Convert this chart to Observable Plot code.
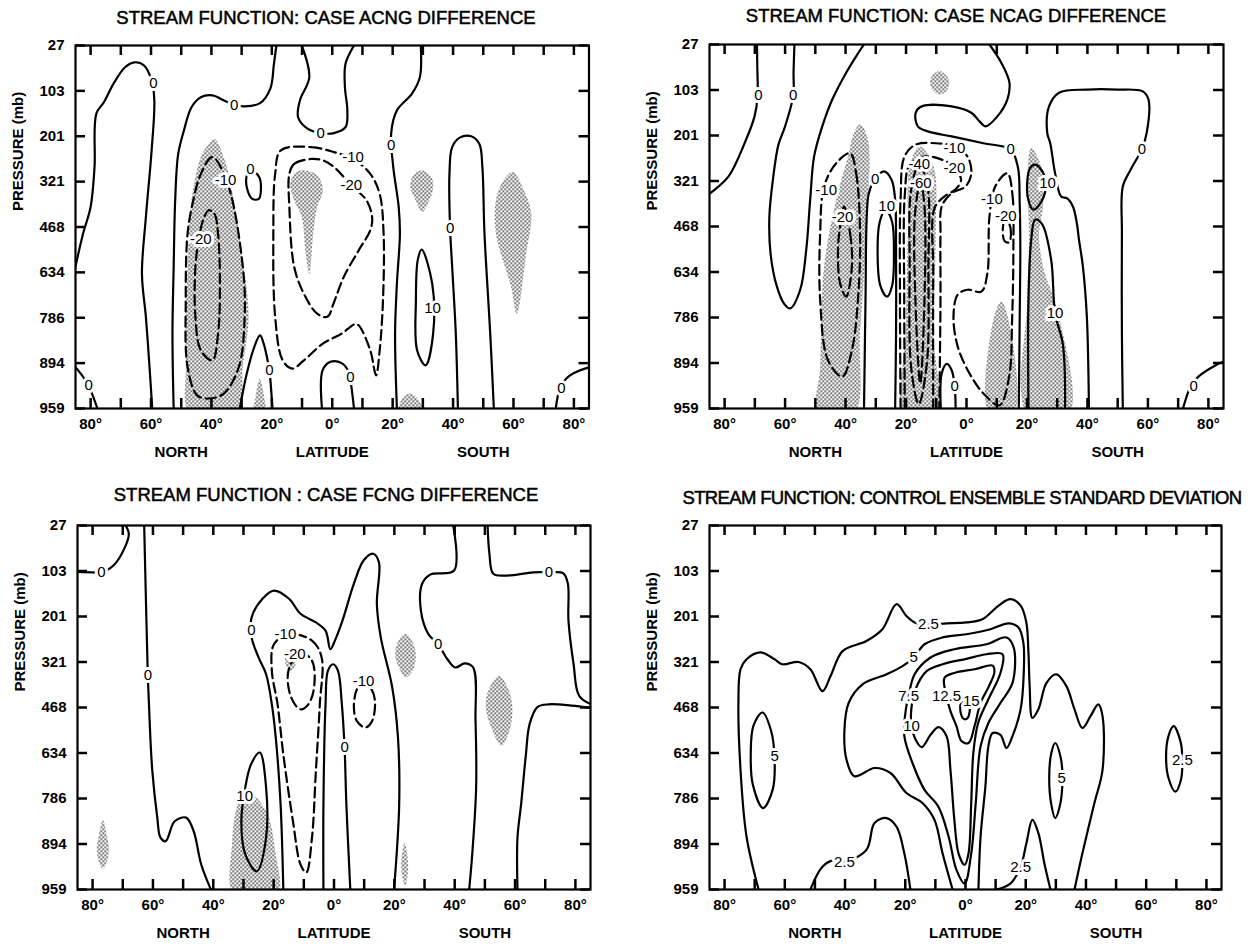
<!DOCTYPE html>
<html><head><meta charset="utf-8">
<script src="https://cdn.jsdelivr.net/npm/d3@7"></script>
<script src="https://cdn.jsdelivr.net/npm/@observablehq/plot@0.6"></script>
<style>
body{margin:0;background:#fff;width:1259px;height:945px;position:relative;overflow:hidden;font-family:"Liberation Sans",Arial,sans-serif;}
.title{position:absolute;transform:translate(-50%,-50%);white-space:nowrap;font-size:18.5px;color:#000;-webkit-text-stroke:0.5px #000;}
</style></head><body>
<svg width="0" height="0" style="position:absolute"><defs>
<pattern id="stipple" width="4" height="4" patternUnits="userSpaceOnUse"><rect x="0" y="0" width="1.5" height="1.5" fill="#111"/><rect x="2" y="2" width="1.5" height="1.5" fill="#111"/></pattern>
</defs></svg>
<script>
// ---------- axes ----------
const latDomain = [-85, 85];            // negative = North, positive = South
const latTicks = [-80,-70,-60,-50,-40,-30,-20,-10,0,10,20,30,40,50,60,70,80];
const latTickLabels = [-80,-60,-40,-20,0,20,40,60,80];
const pressureLevels = [27,103,201,321,468,634,786,894,959]; // mb, one per level index
const levelIndex = [0,1,2,3,4,5,6,7,8];
const hemisphereLabels = [{text:"NORTH",lat:-50},{text:"LATITUDE",lat:0},{text:"SOUTH",lat:50}];
// points are [latitude, level index]

// ---------- Panel 1: CASE ACNG ----------
const acngZeroWest = [[-85.4,4.99],[-82.5,4.15],[-80,3.56],[-78.7,2.68],[-78.1,1.5],[-75.6,1.25],[-72.4,0.84],[-68.6,0.48],[-65.5,0.37],[-62.3,0.44],[-59.8,0.77],[-58.9,1.21],[-59.8,2.31],[-61.7,3.78],[-63,5.03],[-61.7,5.98],[-60.5,7.08],[-59.6,8]];
const acngZeroSW = [[-85.5,7.05],[-82.5,7.3],[-80,7.6],[-77.5,8.05]];
const acngZeroSE = [[85.5,7.08],[78.7,7.27],[75.6,7.52],[73.9,8.05]];
const acngZeroMidNorth = [[-52.5,8],[-52.9,6.35],[-52.5,4.88],[-52,3.41],[-51,2.39],[-49.1,1.87],[-46.6,1.36],[-43.5,1.14],[-39.7,1.1],[-35.3,1.23],[-32.5,1.31],[-29,1.34],[-23.9,1.27],[-20.5,0.95],[-19.3,0.4],[-18.5,0]];
const acngZeroTop = [[-10.1,0],[-7.6,0.7],[-10.7,1.21],[-11.3,1.58],[-8.2,1.83],[-3.8,1.93],[0.6,1.93],[4.4,1.8],[5,1.43],[4.2,0.92],[4.4,0.4],[7.2,0]];
const acngZeroEq = [[29.3,0],[29,0.7],[26.4,1.06],[21.4,1.43],[19.5,1.94],[20.2,2.68],[22,3.56],[22.4,4.15],[21.4,5.25],[20.8,6.35],[21.4,8]];
const acngZeroSouth = [[41.6,8],[40.9,6.35],[39.7,4.88],[39,4.02],[38.8,2.83],[39.7,2.24],[42.2,2.03],[46,2],[48.7,2.17],[49.7,2.68],[50.4,4.15],[52.3,6.35],[53.5,8]];
const acngZeroSmall = [[-27.1,2.72],[-24.2,2.9],[-23.6,3.15],[-24.3,3.38],[-26.5,3.38],[-28.2,3.15],[-28.4,2.9]];
const acngZeroSpike = [[-30.6,8],[-28.3,7.23],[-25.8,6.64],[-23.9,6.39],[-22.7,6.57],[-21.4,6.94],[-20.8,7.16],[-19.8,8]];
const acngZeroHump = [[-3.4,8],[-3.2,7.16],[-0.6,6.97],[3.1,7],[5.5,7.2],[6.3,7.5],[7.2,8]];
const acngTen = [[29.6,4.5],[33.1,5.25],[33.4,6.35],[30.9,7.05],[28.1,6.72],[27.7,5.61],[28.3,4.73]];
const acngMinus10North = [[-39.7,2.46],[-34.6,3.05],[-29.6,4.88],[-29,5.98],[-30.9,7.08],[-35.9,7.67],[-40.9,7.78],[-44.7,7.71],[-47.9,7.08],[-48.5,5.61],[-47.9,4.15],[-46,3.41],[-43.5,2.83]];
const acngMinus20North = [[-40.9,3.63],[-39,3.71],[-37.8,4.15],[-37.2,5.25],[-37.8,6.35],[-39.7,6.94],[-43.5,6.72],[-45.3,5.98],[-45.3,4.88],[-44,4.2],[-42.5,3.8]];
const acngMinus10Eq = [[-17,2.31],[-6.9,2.24],[0.6,2.35],[6.9,2.5],[12.6,2.83],[15.7,3.27],[17,4.15],[16.8,5.61],[15.7,6.72],[14.5,7.27],[12.6,6.72],[8.8,6.17],[7.6,6.14],[3.1,6.35],[-3.1,6.57],[-9.4,6.94],[-13.2,7.12],[-16.4,6.94],[-18.9,5.98],[-19.5,4.15],[-18.9,2.83]];
const acngMinus20Eq = [[-6.9,2.5],[-12.6,2.61],[-14.2,2.83],[-14.2,3.56],[-12.6,4.88],[-9.4,5.47],[-5,5.91],[-1.6,5.98],[0.4,5.69],[3.8,5.1],[8.8,4.51],[12.6,4.07],[13.2,3.78],[11.3,3.41],[6.3,3.08],[0.6,2.68],[-3.1,2.53]];
const acngSigNorth = [[-39,2.06],[-35.9,2.46],[-33.4,3.12],[-29.6,4.73],[-27.7,5.98],[-29.6,7.08],[-31.5,8.1],[-47.2,8.1],[-48.5,7.08],[-47.9,4.88],[-46.6,3.41],[-43.5,2.46],[-41.2,2.2]];
const acngSigSpike = [[-24,7.35],[-22.4,7.8],[-22.2,8.1],[-26,8.1],[-25.5,7.8]];
const acngSigEq = [[-9.4,2.75],[-5,2.86],[-3.1,3.19],[-5,3.56],[-6.3,4.15],[-7.6,5.03],[-8.8,4.59],[-10.1,3.78],[-12.6,3.41],[-13.9,3.05],[-12,2.79]];
const acngSig30S = [[29.6,2.75],[32.8,2.9],[33.4,3.15],[31.5,3.5],[29.8,3.67],[27.5,3.4],[25.8,3.1],[27,2.85]];
const acngSig60S = [[59.8,2.79],[63.5,3.2],[65.9,3.71],[64.2,4.59],[61.1,5.91],[59.2,5.32],[54.2,4.15],[54.2,3.41],[56.7,2.97]];
const acngSig25S = [[25.8,7.67],[28.5,7.8],[30,8.1],[22,8.1],[23,7.8]];
const acngLabels = [[-59.2,0.84,"0"],[-32.5,1.31,"0"],[-3.8,1.93,"0"],[19.5,2.2,"0"],[6.9,2.47,"-10"],[6.3,3.08,"-20"],[-27.1,2.72,"0"],[-35.3,2.97,"-10"],[-43.5,4.26,"-20"],[39,4.02,"0"],[33.2,5.8,"10"],[-20.8,7.16,"0"],[6,7.3,"0"],[-80.6,7.49,"0"],[75.9,7.56,"0"]];

// ---------- Panel 2: CASE NCAG ----------
const ncagZeroWest = [[-85.5,3.3],[-84,3.23],[-78.7,2.9],[-73.4,2.17],[-70.1,1.58],[-69.1,1.14],[-69.2,0.48],[-69.3,0]];
const ncagZeroU = [[-56.9,0],[-57.2,0.6],[-57.3,1.12],[-60,1.8],[-62.2,2.2],[-63.9,2.9],[-65.2,3.78],[-64.8,4.6],[-62.8,5.3],[-60.3,5.7],[-58.3,5.8],[-55,5.39],[-53,4.51],[-51.7,3.41],[-50.4,2.46],[-47.7,1.8],[-44.4,1.21],[-39.8,0.62],[-36.5,0.26],[-33.9,0]];
const ncagZeroBox = [[7.6,0],[11.5,0.4],[14.2,0.84],[13.5,1.21],[10.2,1.58],[6.3,1.8],[4.3,1.69],[1.6,1.5],[-4.9,1.36],[-14.8,1.36],[-16.8,1.5],[-16.1,1.8],[-12.8,1.91],[-4.9,2.02],[5.6,2.17],[14.6,2.31],[17,2.7],[17.6,3.5],[17.8,4.5],[17.6,6],[17.3,8]];
const ncagZeroSouth = [[40.5,8],[39.8,5.98],[38.5,4.88],[37.2,4.29],[36.5,3.93],[35.2,3.56],[33.3,3.38],[31.3,3.34],[29.3,2.83],[27.7,2.17],[26.7,1.94],[27.3,1.36],[30.6,1.06],[40,0.99],[50,0.99],[58.3,1.03],[60.2,1.21],[59.6,1.94],[58,2.3],[54.3,2.75],[51.7,3.12],[51.4,4.15],[51.4,6.35],[51.7,8]];
const ncagZeroSE = [[85.5,6.95],[82.4,7.05],[76.7,7.3],[74.1,7.52],[71.4,8.05]];
const ncagZeroOuterU = [[-33.9,8],[-33.4,5.6],[-33,3.8],[-32.3,3.27],[-30.2,2.95],[-27.3,2.79],[-24.8,2.97],[-23.6,3.41],[-23.3,4.5],[-23.3,6.35],[-23.6,8]];
const ncagZeroHump = [[-8.5,8],[-8.2,7.23],[-6.5,7.02],[-4.9,7.16],[-3.9,7.52],[-3.6,8]];
const ncagTenInner = [[-26.7,3.63],[-24.6,3.9],[-24,4.59],[-24.6,5.3],[-26.3,5.54],[-28.5,5.3],[-29.4,4.59],[-28.7,3.9]];
const ncagTenSmall = [[22.7,2.64],[25.2,2.8],[26.3,3.05],[24.8,3.45],[22.1,3.63],[20.4,3.4],[20.1,3.0],[21,2.72]];
const ncagTenU = [[20.5,8],[20.5,5.61],[21.4,4.3],[22.7,3.85],[25,3.95],[28,4.73],[29.3,5.91],[31.9,6.6],[32.6,8]];
const ncagMinus10West = [[-38.5,2.39],[-36.5,2.83],[-35.2,4.15],[-35.9,5.61],[-37.9,6.72],[-41.1,7.3],[-45.8,6.94],[-48.4,5.61],[-48.4,4.15],[-47.1,3.12],[-43.1,2.61]];
const ncagMinus20West = [[-40.5,3.56],[-38.5,4.15],[-37.9,4.88],[-39.8,5.54],[-41.8,5.25],[-42.5,4.51],[-41.8,4.0]];
const ncagMinus10Eq = [[-21.8,8],[-22,5.6],[-21.8,3.4],[-20.5,2.46],[-16.8,2.2],[-10.2,2.17],[-3.6,2.24],[0.3,2.46],[1.6,2.83],[-0.3,3.12],[-4.9,3.27],[-8.2,3.56],[-8.6,4.15],[-8.6,5.6],[-9,8]];
const ncagMinus20Eq = [[-20.4,8],[-20.6,5.5],[-20.4,3.3],[-18.8,2.65],[-13.5,2.46],[-8.2,2.53],[-4.2,2.68],[-1.8,2.98],[-3.6,3.18],[-7.5,3.35],[-10.6,3.6],[-11,5],[-11,8]];
const ncagMinus40 = [[-15.7,2.64],[-13,3.05],[-12.6,4.88],[-13.1,7.0],[-15.8,7.9],[-18.3,7.1],[-18.8,4.88],[-18.3,3.19]];
const ncagMinus60 = [[-15.2,3.01],[-13.9,3.56],[-13.9,5.61],[-15.3,7.45],[-16.9,5.61],[-17,3.7]];
const ncagMinus10East = [[13.5,2.83],[15.2,3.3],[15.5,4.5],[15.1,6],[14.1,7.3],[10.9,7.93],[5.6,7.67],[1,7.23],[-2.9,6.64],[-4.3,5.98],[-2.9,5.5],[0.3,5.39],[4.9,5.43],[6.9,5.03],[7.6,3.78],[9.5,3.12]];
const ncagMinus20East = [[13,3.8],[14.6,4.05],[14.1,4.35],[12.6,4.32],[12,4.05]];
const ncagSigWest = [[-35.2,1.76],[-32.6,2.09],[-33.2,4.15],[-35.2,6.35],[-37.2,8.1],[-49.1,8.1],[-48.4,7.08],[-47.1,4.88],[-43.1,3.41],[-39.2,2.46],[-37.2,1.94]];
const ncagSigTop = [[-8.9,0.58],[-6.4,0.7],[-5.7,0.84],[-6.6,1.02],[-8.9,1.1],[-11.2,1.0],[-12.1,0.84],[-11.3,0.68]];
const ncagSigEq = [[-15.5,2.24],[-10.9,2.68],[-10.2,4.15],[-10.9,6.35],[-10.2,8.1],[-20.7,8.1],[-20.1,6.35],[-19.4,4.15],[-18.8,2.68]];
const ncagSig10S = [[11.5,5.65],[14.8,6.35],[15.5,8.1],[7.6,8.1],[8,6.35]];
const ncagSig25S = [[21.4,2.28],[24.7,2.68],[25.3,3.56],[24,4.15],[25.3,4.88],[30.6,5.98],[33.9,8.1],[20.1,8.1],[20.1,5.61],[20.7,4.15],[20.1,3.05]];
const ncagLabels = [[-68.8,1.12,"0"],[-57.3,1.12,"0"],[14.6,2.31,"0"],[58,2.3,"0"],[-4,2.28,"-10"],[-4,2.72,"-20"],[-15.6,2.64,"-40"],[-15.1,3.04,"-60"],[-30.2,2.97,"0"],[-26.4,3.55,"10"],[-46.4,3.2,"-10"],[-41,3.8,"-20"],[8.4,3.41,"-10"],[13,3.78,"-20"],[26.8,3.05,"10"],[29.3,5.91,"10"],[-3.9,7.52,"0"],[75.1,7.52,"0"]];

// ---------- Panel 3: CASE FCNG ----------
const fcngZeroNW = [[-85.5,1.02],[-80,1.03],[-77.1,1.03],[-73.1,0.88],[-69.3,0.48],[-68,0.18],[-69.5,-0.05]];
const fcngZeroNorth = [[-62.9,0],[-62.3,1.7],[-61.7,3.3],[-60.9,4.6],[-60.2,5.4],[-58.6,6.4],[-57.5,6.86],[-55.8,6.94],[-52.8,6.5],[-49,6.42],[-46.5,6.72],[-44,7.45],[-40.8,8]];
const fcngZeroEq = [[-16.8,8],[-17.7,6.13],[-19.3,4.66],[-20.6,3.93],[-22.5,3.27],[-25,2.9],[-27.3,2.46],[-27.3,2.02],[-23.7,1.61],[-19.9,1.43],[-14.9,1.61],[-11.1,1.94],[-6,2.13],[-2.8,2.31],[-1.2,2.72],[0.3,2.53],[2.8,2.09],[6.6,1.28],[9.8,0.77],[13,0.62],[14.9,0.81],[14.2,1.72],[15.5,2.46],[19.3,3.56],[21.2,4.66],[21.6,6.13],[19.9,8]];
const fcngZeroInner = [[-3.5,8],[-3.5,6.13],[-2.8,3.93],[-2,3.19],[-0.3,3.05],[1.3,3.19],[2.6,3.93],[3.5,4.88],[4.1,6.13],[5.4,8]];
const fcngZeroSouthA = [[39.5,0],[39.8,0.99],[31.9,1.08],[29.2,1.28],[28.8,1.87],[31.3,2.39],[34.5,2.61],[37.6,2.94],[40.2,3.12],[43.3,3.03],[46.1,3.12],[46.9,4.29],[47.1,5.76],[45.8,7.23],[44.8,8]];
const fcngZeroSouthB = [[50.9,0],[51.5,0.62],[52.8,1.06],[57.2,1.1],[66.1,1.03],[71.2,1.03],[76,1.05],[77.5,1.28],[77.7,2.09],[79.4,3.05],[81.3,3.75],[86,3.95]];
const fcngZeroSouthC = [[86,4.02],[78.7,3.96],[71.2,3.93],[67.4,3.99],[64.8,4.37],[63.6,5.03],[62,6.13],[60.8,6.86],[60.8,8]];
const fcngTen = [[-24.6,4.99],[-22.5,5.76],[-22.5,6.86],[-25.6,7.6],[-29.4,7.23],[-30.7,6.5],[-29.4,5.76],[-27.5,5.25]];
const fcngMinus10 = [[-14.9,2.39],[-7.3,2.53],[-4.1,2.9],[-4.7,3.93],[-6,5.39],[-7.3,6.86],[-9.2,7.63],[-11.1,7.45],[-13.6,6.5],[-16.8,5.03],[-18.7,3.93],[-20.6,3.19],[-19.9,2.61]];
const fcngMinus20 = [[-11.1,2.79],[-7.3,2.97],[-6.6,3.56],[-8.5,3.93],[-11.1,4.04],[-14.2,3.78],[-15.1,3.19]];
const fcngMinus10East = [[9.8,3.45],[12.6,3.62],[13.6,3.9],[12.6,4.3],[10.4,4.44],[7.6,4.3],[6.6,4.0],[7.6,3.6]];
const fcngSig75N = [[-76.6,6.48],[-75.3,6.8],[-74.6,7.1],[-75.3,7.4],[-76.6,7.54],[-77.9,7.4],[-78.6,7.1],[-77.9,6.8]];
const fcngSig25N = [[-28.8,5.83],[-22.5,6.28],[-19.3,7.23],[-18.7,8.1],[-33.2,8.1],[-33.8,7.01],[-31.9,6.13]];
const fcngSig15N = [[-14.6,2.68],[-12.8,2.85],[-12.5,3.0],[-13.5,3.15],[-14.6,3.2],[-16,3.05],[-16.2,2.85]];
const fcngSig24S = [[23.7,2.38],[26.3,2.6],[27.1,2.86],[26,3.2],[23.7,3.34],[21.4,3.1],[20.3,2.86],[21.2,2.55]];
const fcngSig55S = [[54.7,3.3],[57.8,3.6],[59.1,4.0],[58.2,4.5],[55.5,4.84],[52.5,4.5],[50.3,4.0],[51.3,3.6]];
const fcngSig23S = [[23.4,6.97],[24.4,7.3],[24.5,7.6],[23.6,7.93],[22.4,7.6],[22.4,7.3]];
const fcngLabels = [[-77.1,1.03,"0"],[-61.7,3.3,"0"],[-27.4,2.3,"0"],[-16.1,2.39,"-10"],[-13,2.83,"-20"],[9.8,3.42,"-10"],[3.5,4.88,"0"],[34.5,2.61,"0"],[71.2,1.03,"0"],[-29.6,5.94,"10"]];

// ---------- Panel 4: CONTROL ENSEMBLE STANDARD DEVIATION ----------
const ctrl25Outer = [[-68.7,8],[-72.7,6.84],[-74.7,5.37],[-75.4,3.9],[-74.7,3.16],[-72.7,2.94],[-68.1,2.79],[-63.4,2.94],[-60.8,3.05],[-55.4,3.0],[-51.5,3.16],[-47.5,3.64],[-44.8,3.31],[-40.8,2.76],[-32.9,2.54],[-27.6,2.28],[-22.9,1.73],[-19.6,1.99],[-16.9,2.13],[-12.3,2.17],[-6.3,2.15],[0.3,2.13],[5.6,2.06],[11,1.76],[14.9,1.62],[18.3,1.76],[20.2,2.13],[20.9,2.79],[21.3,3.53],[22.2,4.23],[24.2,4.04],[26.9,3.46],[30.2,3.27],[33.5,3.53],[36.2,4.04],[38.8,4.45],[41.5,4.19],[44.1,3.93],[45.5,4.19],[45.5,5.37],[42.8,6.1],[38.8,7.21],[36.2,8]];
const ctrl25SW = [[-51.5,8],[-47.5,7.5],[-43.5,7.35],[-40.2,7.39],[-32.9,7.13],[-30.2,6.54],[-26.2,6.43],[-22.9,6.62],[-20.3,7.21],[-18.3,8]];
const ctrl25SE = [[10.3,8],[14.9,7.87],[18.3,7.5],[20.2,6.99],[22.2,6.47],[24.2,6.76],[26.2,7.43],[28.2,8]];
const ctrl25East = [[69.1,4.41],[71.4,4.75],[72,5.15],[71.5,5.6],[69.7,5.85],[67.4,5.55],[66.6,5.1],[67.3,4.65]];
const ctrl5Main = [[-4.3,8],[-7.6,7.21],[-10.3,6.47],[-14.3,6.1],[-19.6,5.88],[-24.9,5.44],[-30.2,5.33],[-36.9,5.51],[-39.5,5.15],[-40.2,4.49],[-38.8,3.9],[-34.2,3.49],[-26.2,3.27],[-20.9,3.09],[-17.2,2.9],[-13.6,2.61],[-7.6,2.46],[0.3,2.39],[8.3,2.28],[14.3,2.15],[17.6,2.24],[19.2,2.57],[19.3,3.31],[18.3,4.04],[15.6,4.63],[13.6,4.89],[11.6,4.6],[9,4.56],[7.6,4.85],[6.6,5.74],[5,6.84],[4.3,8]];
const ctrl5West = [[-67.4,4.11],[-64.6,4.5],[-63.4,5.1],[-64,5.8],[-67.2,6.21],[-70.6,5.7],[-71.3,5.0],[-70.4,4.4]];
const ctrl5East = [[29.8,4.78],[31.6,5.1],[32.2,5.6],[31.2,6.2],[29.8,6.43],[28.4,6.1],[27.8,5.5],[28.5,5.0]];
const ctrl75 = [[-0.3,7.87],[-3,7.57],[-5.6,6.84],[-9,6.18],[-13.6,5.81],[-17.6,5.22],[-20.3,4.63],[-19.8,4.04],[-18.9,3.75],[-16.9,3.27],[-11.6,2.9],[-3.7,2.72],[7,2.61],[13.6,2.46],[16,2.68],[15.6,3.46],[11.6,3.9],[7.6,4.34],[5,4.85],[3.4,6.1],[1.9,7.21]];
const ctrl10 = [[-17.9,4.41],[-16.3,4.74],[-14.5,4.87],[-11.6,4.6],[-9,4.43],[-6.3,4.63],[-5,5.37],[-3.7,6.47],[-2.3,7.21],[-0.3,7.46],[1,7.21],[1.9,6.1],[2.6,5.0],[4.2,4.34],[7.6,3.82],[11.6,3.24],[12.3,2.83],[7,2.83],[0.3,2.93],[-7.6,3.05],[-12.9,3.2],[-16.6,3.6],[-18,4.04]];
const ctrl125 = [[-6.3,3.75],[-7,3.35],[-3.7,3.24],[3,3.16],[9,3.08],[9.6,3.22],[7.8,3.53],[5,3.9],[3,4.41],[1,4.78],[-1.3,4.74],[-3,4.41],[-5,4.08]];
const ctrl15 = [[-0.3,3.83],[1.2,3.92],[1.4,4.08],[0.6,4.24],[-0.6,4.25],[-1.7,4.08],[-1.5,3.9]];
const ctrlLabels = [[-12.3,2.17,"2.5"],[-17.2,2.9,"5"],[-18.9,3.75,"7.5"],[-17.9,4.41,"10"],[-6.3,3.75,"12.5"],[1.9,3.86,"15"],[-63.4,5.07,"5"],[31.9,5.55,"5"],[72,5.15,"2.5"],[-40.2,7.39,"2.5"],[18.3,7.5,"2.5"]];

// ---------- panel definitions ----------
const panels = [
  { title: "STREAM FUNCTION: CASE ACNG DIFFERENCE",
    box: {left:0, top:0, width:620, height:470, ml:75, mr:31.5, mt:45, mb:62},
    titleAt: {x:326, y:18, ls:0},
    contours: [
      {value:0, points:acngZeroWest}, {value:0, points:acngZeroSW}, {value:0, points:acngZeroSE},
      {value:0, points:acngZeroMidNorth}, {value:0, points:acngZeroTop}, {value:0, points:acngZeroEq},
      {value:0, points:acngZeroSouth}, {value:0, points:acngZeroSmall, closed:true}, {value:0, points:acngZeroSpike},
      {value:0, points:acngZeroHump}, {value:10, points:acngTen, closed:true},
      {value:-10, points:acngMinus10North, closed:true}, {value:-20, points:acngMinus20North, closed:true},
      {value:-10, points:acngMinus10Eq, closed:true}, {value:-20, points:acngMinus20Eq, closed:true}],
    sig: [acngSigNorth, acngSigSpike, acngSigEq, acngSig30S, acngSig60S, acngSig25S],
    labels: acngLabels },
  { title: "STREAM FUNCTION: CASE NCAG DIFFERENCE",
    box: {left:630, top:0, width:629, height:470, ml:79, mr:36, mt:44, mb:62},
    titleAt: {x:956, y:16, ls:0},
    contours: [
      {value:0, points:ncagZeroWest}, {value:0, points:ncagZeroU}, {value:0, points:ncagZeroBox},
      {value:0, points:ncagZeroSouth}, {value:0, points:ncagZeroSE}, {value:0, points:ncagZeroOuterU},
      {value:0, points:ncagZeroHump}, {value:10, points:ncagTenInner, closed:true},
      {value:10, points:ncagTenSmall, closed:true}, {value:10, points:ncagTenU},
      {value:-10, points:ncagMinus10West, closed:true}, {value:-20, points:ncagMinus20West, closed:true},
      {value:-10, points:ncagMinus10Eq}, {value:-20, points:ncagMinus20Eq},
      {value:-40, points:ncagMinus40, closed:true}, {value:-60, points:ncagMinus60, closed:true},
      {value:-10, points:ncagMinus10East, closed:true}, {value:-20, points:ncagMinus20East, closed:true}],
    sig: [ncagSigWest, ncagSigTop, ncagSigEq, ncagSig10S, ncagSig25S],
    labels: ncagLabels },
  { title: "STREAM FUNCTION : CASE FCNG DIFFERENCE",
    box: {left:0, top:470, width:620, height:475, ml:77, mr:30, mt:55, mb:56},
    titleAt: {x:326, y:495, ls:0},
    contours: [
      {value:0, points:fcngZeroNW}, {value:0, points:fcngZeroNorth}, {value:0, points:fcngZeroEq},
      {value:0, points:fcngZeroInner}, {value:0, points:fcngZeroSouthA}, {value:0, points:fcngZeroSouthB},
      {value:0, points:fcngZeroSouthC}, {value:10, points:fcngTen, closed:true},
      {value:-10, points:fcngMinus10, closed:true}, {value:-20, points:fcngMinus20, closed:true},
      {value:-10, points:fcngMinus10East, closed:true}],
    sig: [fcngSig75N, fcngSig25N, fcngSig15N, fcngSig24S, fcngSig55S, fcngSig23S],
    labels: fcngLabels },
  { title: "STREAM FUNCTION: CONTROL ENSEMBLE STANDARD DEVIATION",
    box: {left:630, top:470, width:629, height:475, ml:79, mr:38, mt:55, mb:56},
    titleAt: {x:962, y:498, ls:-0.65},
    contours: [
      {value:2.5, points:ctrl25Outer}, {value:2.5, points:ctrl25SW}, {value:2.5, points:ctrl25SE},
      {value:2.5, points:ctrl25East, closed:true}, {value:5, points:ctrl5Main},
      {value:5, points:ctrl5West, closed:true}, {value:5, points:ctrl5East, closed:true},
      {value:7.5, points:ctrl75, closed:true}, {value:10, points:ctrl10, closed:true},
      {value:12.5, points:ctrl125, closed:true}, {value:15, points:ctrl15, closed:true}],
    sig: [],
    labels: ctrlLabels }
];

const X = d => d[0], Y = d => d[1];
const tickLen = 10; // px, inward ticks
const yTop = levelIndex[0], yBottom = levelIndex[levelIndex.length - 1];

for (const p of panels) {
  const b = p.box;
  const frameW = b.width - b.ml - b.mr, frameH = b.height - b.mt - b.mb;
  const marks = [];
  for (const s of p.sig) marks.push(Plot.line(s, {x: X, y: Y, curve: "catmull-rom-closed", fill: "url(#stipple)", stroke: "none", clip: "frame"}));
  for (const c of p.contours) {
    const opts = {x: X, y: Y, curve: c.closed ? "catmull-rom-closed" : "catmull-rom", stroke: "#000", strokeWidth: 2.2, strokeLinejoin: "round", clip: "frame"};
    if (c.value < 0) opts.strokeDasharray = "10,5";
    marks.push(Plot.line(c.points, opts));
  }
  marks.push(
    Plot.text(p.labels, {x: X, y: Y, text: d => d[2], fontSize: 15, fontWeight: "normal", fill: "#000", stroke: "#fff", strokeWidth: 6}),
    // inward-pointing ticks on all four sides
    Plot.ruleX(latTicks, {x: d => d, insetBottom: frameH - tickLen, stroke: "#000", strokeWidth: 2.5}),
    Plot.ruleX(latTicks, {x: d => d, insetTop: frameH - tickLen, stroke: "#000", strokeWidth: 2.5}),
    Plot.ruleY(levelIndex, {y: d => d, insetRight: frameW - tickLen, stroke: "#000", strokeWidth: 2.5}),
    Plot.ruleY(levelIndex, {y: d => d, insetLeft: frameW - tickLen, stroke: "#000", strokeWidth: 2.5}),
    Plot.frame({stroke: "#000", strokeWidth: 2.2}),
    Plot.axisX(latTickLabels, {tickFormat: d => `${Math.abs(d)}°`, tickSize: 0, tickPadding: 10, label: null, fontSize: 15, fontWeight: "bold"}),
    Plot.axisY(levelIndex, {tickFormat: i => String(pressureLevels[i]), tickSize: 0, tickPadding: 11, label: null, fontSize: 15, fontWeight: "bold"}),
    Plot.text(hemisphereLabels, {x: "lat", text: "text", frameAnchor: "bottom", dy: 48, fontSize: 15, fontWeight: "bold"}),
    Plot.text(["PRESSURE (mb)"], {text: d => d, frameAnchor: "left", dx: -57, dy: -16, rotate: -90, fontSize: 15, fontWeight: "bold"})
  );
  const svg = Plot.plot({
    width: b.width, height: b.height,
    marginLeft: b.ml, marginRight: b.mr, marginTop: b.mt, marginBottom: b.mb,
    x: {domain: latDomain},
    y: {domain: [yTop, yBottom], reverse: true},
    style: {fontFamily: '"Liberation Sans", Arial, sans-serif', fontSize: "15px", background: "transparent", overflow: "visible", color: "#000"},
    marks
  });
  svg.style.position = "absolute";
  svg.style.left = b.left + "px";
  svg.style.top = b.top + "px";
  svg.style.maxWidth = "none";
  document.body.appendChild(svg);
  const t = document.createElement("div");
  t.className = "title";
  t.textContent = p.title;
  t.style.left = p.titleAt.x + "px";
  t.style.top = p.titleAt.y + "px";
  t.style.letterSpacing = p.titleAt.ls + "px";
  document.body.appendChild(t);
}
</script>
</body></html>
